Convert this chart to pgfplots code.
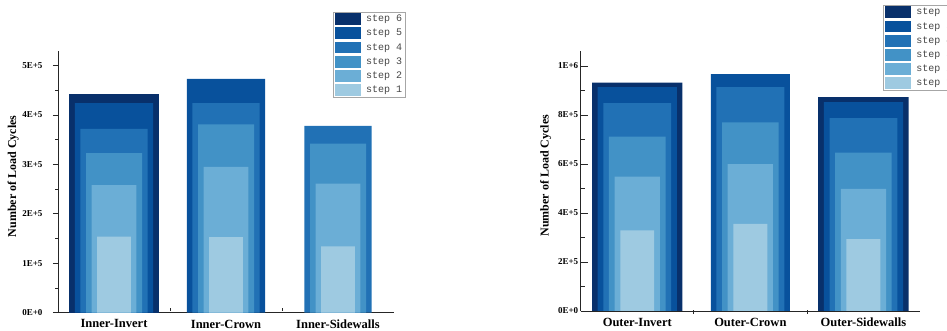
\documentclass[border=0pt]{standalone}
\usepackage{fontspec}
\setmainfont{Liberation Serif}
\setmonofont{Liberation Mono}
\usepackage{pgfplots}
\pgfplotsset{compat=1.18}
\definecolor{s1}{HTML}{9ECAE1}
\definecolor{s2}{HTML}{6BAED6}
\definecolor{s3}{HTML}{4292C6}
\definecolor{s4}{HTML}{2171B5}
\definecolor{s5}{HTML}{08519C}
\definecolor{s6}{HTML}{08306B}
\pgfplotsset{
  common/.style={
    scale only axis,
    axis lines=left,
    axis line style={-, line width=0.8pt, black!85},
    xmin=-0.5, xmax=2.5, ymin=0,
    xtick={0,1,2}, minor xtick={0.5,1.5},
    minor y tick num=1,
    scaled y ticks=false,
    tick style={black!85, line width=0.7pt},
    xticklabel style={font=\bfseries\fontsize{12.5}{14}\selectfont},
    yticklabel style={font=\bfseries\fontsize{9}{10}\selectfont},
    ylabel={Number of Load Cycles},
    ylabel style={font=\bfseries\fontsize{12}{14}\selectfont, anchor=center},
    legend cell align=left,
    legend image code/.code={\path[fill, draw=none] (0pt,-5.9pt) rectangle (26.5pt,5.9pt);},
    legend style={draw=gray!70, line width=0.6pt, inner sep=1.2pt, row sep=2.4pt,
      font=\ttfamily\fontsize{10}{11}\selectfont, text=gray!55!black,
      nodes={inner sep=1.5pt}, anchor=north west,
      /tikz/every odd column/.append style={column sep=3.5pt}},
    every axis plot/.append style={ybar, bar shift=0pt, draw=none},
  }
}
\begin{document}
\begin{tikzpicture}
% ---------- left chart ----------
\begin{axis}[common,
  at={(58pt,18.3pt)}, anchor=south west,
  width=336pt, height=262pt,
  ymax=5.3e5,
  ytick={0,1e5,2e5,3e5,4e5,5e5},
  yticklabels={0E+0,1E+5,2E+5,3E+5,4E+5,5E+5},
  xticklabels={Inner-Invert,Inner-Crown,Inner-Sidewalls},
  tick align=outside, major tick length=5pt, minor tick length=3pt,
  x tick style={yshift=5pt},
  xticklabel style={yshift=1.5pt},
  yticklabel style={xshift=-7pt},
  ylabel style={at={(axis description cs:-0.133,0.52)}},
  legend style={at={(0.819,1.149)}},
]
\addplot[fill=s6, bar width=0.8] coordinates {(0,4.43e5)};
\addplot[fill=s5, bar width=0.7] coordinates {(0,4.24e5) (1,4.73e5)};
\addplot[fill=s4, bar width=0.6] coordinates {(0,3.72e5) (1,4.24e5) (2,3.78e5)};
\addplot[fill=s3, bar width=0.5] coordinates {(0,3.23e5) (1,3.81e5) (2,3.42e5)};
\addplot[fill=s2, bar width=0.4] coordinates {(0,2.58e5) (1,2.95e5) (2,2.61e5)};
\addplot[fill=s1, bar width=0.3] coordinates {(0,1.54e5) (1,1.53e5) (2,1.34e5)};
\legend{step 6,step 5,step 4,step 3,step 2,step 1}
\end{axis}
% ---------- right chart ----------
\begin{axis}[common,
  at={(580.7pt,20pt)}, anchor=south west,
  width=339.3pt, height=260.3pt,
  ymax=1.062e6,
  ytick={0,2e5,4e5,6e5,8e5,1e6},
  yticklabels={0E+0,2E+5,4E+5,6E+5,8E+5,1E+6},
  xticklabels={Outer-Invert,Outer-Crown,Outer-Sidewalls},
  tick align=inside, major tick length=7pt, minor tick length=4pt,
  minor x tick style={yshift=-3pt},
  xticklabel style={yshift=-3.5pt},
  yticklabel style={xshift=1pt},
  ylabel style={at={(axis description cs:-0.103,0.52)}},
  legend style={at={(0.892,1.176)}},
]
\addplot[fill=s6, bar width=0.8] coordinates {(0,9.32e5) (2,8.73e5)};
\addplot[fill=s5, bar width=0.7] coordinates {(0,9.13e5) (1,9.66e5) (2,8.52e5)};
\addplot[fill=s4, bar width=0.6] coordinates {(0,8.48e5) (1,9.13e5) (2,7.87e5)};
\addplot[fill=s3, bar width=0.5] coordinates {(0,7.11e5) (1,7.70e5) (2,6.46e5)};
\addplot[fill=s2, bar width=0.4] coordinates {(0,5.48e5) (1,5.99e5) (2,4.98e5)};
\addplot[fill=s1, bar width=0.3] coordinates {(0,3.29e5) (1,3.55e5) (2,2.93e5)};
\legend{step 6,step 5,step 4,step 3,step 2,step 1}
\end{axis}
\pgfresetboundingbox
\path[use as bounding box] (0pt,0pt) rectangle (947pt,331pt);
\end{tikzpicture}
\end{document}
